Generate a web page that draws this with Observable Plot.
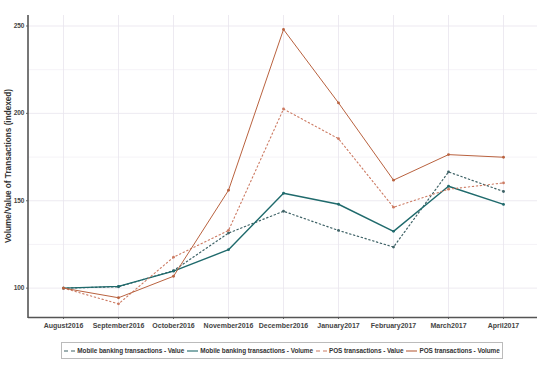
<!DOCTYPE html>
<html>
<head>
<meta charset="utf-8">
<script src="https://cdn.jsdelivr.net/npm/d3@7"></script>
<script src="https://cdn.jsdelivr.net/npm/@observablehq/plot@0.6"></script>
<style>
body{margin:0;background:#fff;font-family:"Liberation Sans",Arial,sans-serif;}
#chart{width:540px;height:365px;position:relative;}
.legend{position:absolute;left:61px;top:342px;width:442px;height:17px;border:1px solid #bbb;box-sizing:border-box;display:flex;align-items:center;justify-content:center;gap:3px;font-size:6.4px;font-weight:bold;color:#333;white-space:nowrap;letter-spacing:-0.05px;}
.item{display:flex;align-items:center;gap:2px;}
.legend svg{display:block;}
</style>
</head>
<body>
<div id="chart"></div>
<script>
const months = ["August2016","September2016","October2016","November2016","December2016","January2017","February2017","March2017","April2017"];
const mobileValue  = [100, 100.8, 110, 131.5, 144, 133, 123.5, 166.5, 155.3];
const mobileVolume = [100, 101, 109.7, 122, 154.3, 148, 132.5, 158.3, 147.9];
const posValue     = [100, 91, 117.7, 133, 202.5, 185.5, 146.3, 156.6, 160.2];
const posVolume    = [100, 94.5, 106.8, 156, 248, 206, 161.8, 176.4, 174.9];
const seriesNames = ["Mobile banking transactions - Value","Mobile banking transactions - Volume","POS transactions - Value","POS transactions - Volume"];
const seriesColors = ["#3e6266","#1f6a6c","#cc7a62","#b9623f"];
const seriesDash = ["1.4,2.6",null,"1.4,2.6",null];
const seriesWidth = [1.2,1.4,1.1,1.0];
const yTicks = [100,150,200,250];
const yMinor = [125,175,225];

const allSeries = [mobileValue, mobileVolume, posValue, posVolume];
const rows = [];
allSeries.forEach((vals, si) => vals.forEach((v, i) => rows.push({month: months[i], value: v, series: seriesNames[si]})));

const marks = [
  Plot.gridY(yMinor, {stroke:"#eeebf2", strokeOpacity:1, strokeWidth:0.6}),
  Plot.gridY(yTicks, {stroke:"#e8e4ee", strokeOpacity:1, strokeWidth:0.8}),
  Plot.gridX(months, {stroke:"#e8e4ee", strokeOpacity:1, strokeWidth:0.8}),
];
seriesNames.forEach((name, si) => {
  const d = rows.filter(r => r.series === name);
  marks.push(Plot.line(d, {x:"month", y:"value", stroke:seriesColors[si], strokeWidth: seriesWidth[si], strokeDasharray: seriesDash[si]}));
  marks.push(Plot.dot(d, {x:"month", y:"value", fill:seriesColors[si], r:1.4}));
});
marks.push(Plot.axisY(yTicks, {tickSize:2, tickPadding:2, fontSize:6.5, fontWeight:"bold", stroke:"#666", fill:"#444", label:null}));
marks.push(Plot.axisX(months, {tickSize:2, tickPadding:4, fontSize:7, fontWeight:"bold", stroke:"#666", fill:"#444", label:null}));
marks.push(Plot.ruleY([83.2], {stroke:"#555", strokeWidth:1.6}));

const plot = Plot.plot({
  width:540, height:335,
  marginLeft:28, marginRight:3, marginTop:15, marginBottom:18,
  style:{fontFamily:"'Liberation Sans', Arial, sans-serif", background:"transparent"},
  x:{type:"point", domain:months, padding:0.6},
  y:{domain:[83.2,256]},
  marks
});
const chart = document.getElementById("chart");
chart.appendChild(plot);
const svg = d3.select(plot);
svg.append("line").attr("x1",28).attr("x2",28).attr("y1",15).attr("y2",318).attr("stroke","#555").attr("stroke-width",1.6);
svg.append("text").attr("transform","translate(9,166) rotate(-90)").attr("text-anchor","middle").attr("dominant-baseline","middle")
  .attr("font-size",8.2).attr("font-weight","bold").attr("fill","#333").text("Volume/Value of Transactions (indexed)");

const legend = document.createElement("div");
legend.className = "legend";
seriesNames.forEach((name, si) => {
  const it = document.createElement("div");
  it.className = "item";
  const dash = seriesDash[si] ? `stroke-dasharray="4,3"` : "";
  it.innerHTML = `<svg width="11" height="6"><line x1="0" x2="11" y1="3" y2="3" stroke="${seriesColors[si]}" stroke-width="1.1" ${dash}/></svg><span>${name}</span>`;
  legend.appendChild(it);
});
chart.appendChild(legend);
</script>
</body>
</html>
